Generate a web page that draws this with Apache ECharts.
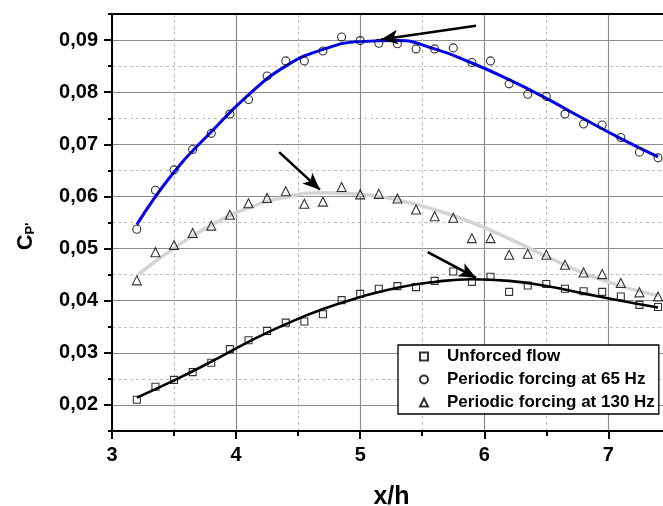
<!DOCTYPE html>
<html>
<head>
<meta charset="utf-8">
<script src="https://cdn.jsdelivr.net/npm/echarts@6/dist/echarts.min.js"></script>
<style>html,body{margin:0;padding:0;background:#fff}#c{width:663px;height:506px}</style>
</head>
<body>
<div id="c"></div>
<script>
// ---- data ----
var xPos = [3.2,3.35,3.5,3.65,3.8,3.95,4.1,4.25,4.4,4.55,4.7,4.85,5.0,5.15,5.3,5.45,5.6,5.75,5.9,6.05,6.2,6.35,6.5,6.65,6.8,6.95,7.1,7.25,7.4];
var unforced = [0.0210,0.0235,0.0248,0.0263,0.0281,0.0307,0.0324,0.0342,0.0358,0.0360,0.0374,0.0401,0.0413,0.0423,0.0428,0.0426,0.0438,0.0456,0.0436,0.0446,0.0417,0.0429,0.0432,0.0423,0.0418,0.0417,0.0408,0.0392,0.0388];
var forcing65 = [0.0537,0.0612,0.0651,0.0690,0.0721,0.0758,0.0786,0.0831,0.0860,0.0860,0.0879,0.0906,0.0899,0.0894,0.0893,0.0883,0.0883,0.0885,0.0857,0.0860,0.0816,0.0796,0.0792,0.0758,0.0739,0.0737,0.0713,0.0685,0.0674];
var forcing130 = [0.0439,0.0493,0.0507,0.0530,0.0544,0.0565,0.0587,0.0597,0.0610,0.0586,0.0590,0.0618,0.0604,0.0605,0.0596,0.0575,0.0562,0.0559,0.0520,0.0520,0.0488,0.0490,0.0488,0.0469,0.0454,0.0451,0.0434,0.0416,0.0408];
// fitted curves
var fitX = [3.2,3.5,3.8,4.1,4.4,4.7,5.0,5.3,5.6,5.9,6.2,6.5,6.8,7.1,7.4];
var fitUnforced = [0.0214,0.0247,0.0283,0.0321,0.0355,0.0384,0.0407,0.0425,0.0436,0.0441,0.0438,0.0428,0.0414,0.0400,0.0387];
var fit65 = [0.0546,0.0647,0.0724,0.0795,0.0850,0.0882,0.0897,0.0899,0.0883,0.0856,0.0824,0.0788,0.0749,0.0711,0.0676];
var fit130 = [0.0448,0.0501,0.0545,0.0578,0.0599,0.0607,0.0604,0.0593,0.0575,0.0550,0.0519,0.0485,0.0453,0.0428,0.0410];
var seriesNames = ['Unforced flow','Periodic forcing at 65 Hz','Periodic forcing at 130 Hz'];
var xMajor = [3,4,5,6,7];
var xMinor = [3.5,4.5,5.5,6.5];
var yMajor = [0.02,0.03,0.04,0.05,0.06,0.07,0.08,0.09];
var yMinor = [0.015,0.025,0.035,0.045,0.055,0.065,0.075,0.085,0.095];
// arrows: [tailX, tailY, tipX, tipY]
var arrows = [
  [5.933,0.09275,5.167,0.0901],
  [4.347,0.0685,4.675,0.0613],
  [5.544,0.0493,5.933,0.0444]
];

function pairs(xs, ys){ return xs.map(function(x,i){ return [x, ys[i]]; }); }

var FONT = 'Liberation Sans, Arial, sans-serif';
var chart = echarts.init(document.getElementById('c'), null, {renderer:'canvas'});
var XMIN = 3, XMAX = 7.44, YMIN = 0.015, YMAX = 0.095;

var scatterStyle = {color:'rgba(255,255,255,0)', borderColor:'#000', borderWidth:1.1};

chart.setOption({
  animation:false,
  backgroundColor:'#fff',
  grid:{left:112, top:14, right:0, bottom:75, containLabel:false, outerBoundsMode:'none'},
  legend:{
    orient:'vertical', left:398, top:345,
    data:seriesNames,
    backgroundColor:'#fff', borderColor:'#000', borderWidth:1.3,
    padding:[3,4,3,21], itemWidth:8, itemHeight:8, itemGap:6,
    textStyle:{fontFamily:FONT, fontSize:17, fontWeight:'bold', color:'#000', lineHeight:16, padding:[0,0,0,14]}
  },
  xAxis:[
    {type:'value', position:'bottom', min:XMIN, max:XMAX, interval:0.5,
     name:'x/h', nameLocation:'middle', nameGap:54,
     nameTextStyle:{fontFamily:FONT, fontSize:25, fontWeight:'bold', color:'#000', padding:[0,0,0,8]},
     axisLine:{show:true, onZero:false, lineStyle:{color:'#000', width:2}},
     axisTick:{show:true, customValues:xMajor, length:8, lineStyle:{color:'#000', width:2}},
     axisLabel:{show:true, customValues:xMajor, margin:14, fontFamily:FONT, fontSize:20, fontWeight:'bold', color:'#000'},
     splitLine:{show:true, lineStyle:{color:'#8c8c8c', width:1.2, type:'solid'}}
    },
    {type:'value', position:'top', min:XMIN, max:XMAX, interval:0.5,
     axisLine:{show:true, onZero:false, lineStyle:{color:'#000', width:2}},
     axisTick:{show:false, customValues:xMinor},
     axisLabel:{show:false, customValues:xMinor},
     splitLine:{show:true, lineStyle:{color:'#bdbdbd', width:1, type:[3,3]}}
    },
    {type:'value', position:'bottom', min:XMIN, max:XMAX, interval:0.5,
     axisLine:{show:false, onZero:false},
     axisTick:{show:true, customValues:xMinor, length:5, lineStyle:{color:'#000', width:2}},
     axisLabel:{show:false, customValues:xMinor},
     splitLine:{show:false}
    }
  ],
  yAxis:[
    {type:'value', position:'left', min:YMIN, max:YMAX, interval:0.005,
     name:'{c|C}{s|P\'}', nameLocation:'middle', nameRotate:90, nameGap:75,
     nameTextStyle:{rich:{
       c:{fontFamily:FONT, fontSize:22, fontWeight:'bold', color:'#000'},
       s:{fontFamily:FONT, fontSize:13, fontWeight:'bold', color:'#000', verticalAlign:'bottom', padding:[0,28,0,0]}
     }},
     axisLine:{show:true, onZero:false, lineStyle:{color:'#000', width:2}},
     axisTick:{show:true, customValues:yMajor, length:8, lineStyle:{color:'#000', width:2}},
     axisLabel:{show:true, customValues:yMajor, margin:14, fontFamily:FONT, fontSize:20, fontWeight:'bold', color:'#000',
       formatter:function(v){ return v.toFixed(2).replace('.', ','); }},
     splitLine:{show:true, lineStyle:{color:'#8c8c8c', width:1.2, type:'solid'}}
    },
    {type:'value', position:'left', min:YMIN, max:YMAX, interval:0.005,
     axisLine:{show:false, onZero:false},
     axisTick:{show:true, customValues:yMinor, length:4, lineStyle:{color:'#000', width:2}},
     axisLabel:{show:false, customValues:yMinor},
     splitLine:{show:true, lineStyle:{color:'#bdbdbd', width:1, type:[3,3]}}
    }
  ],
  series:[
    {type:'line', name:'fit130', data:pairs(fitX, fit130), smooth:0.5, symbol:'none', silent:true, z:2,
     lineStyle:{color:'#d4d4d4', width:3.5}},
    {type:'line', name:'fit65', data:pairs(fitX, fit65), smooth:0.5, symbol:'none', silent:true, z:2,
     lineStyle:{color:'#0000ee', width:3}},
    {type:'line', name:'fitUnforced', data:pairs(fitX, fitUnforced), smooth:0.5, symbol:'none', silent:true, z:2,
     lineStyle:{color:'#000', width:2.6}},
    {type:'scatter', name:seriesNames[0], data:pairs(xPos, unforced), symbol:'rect', symbolSize:7, z:3,
     itemStyle:scatterStyle,
     markLine:{silent:true, symbol:['none','arrow'], symbolSize:[11,17], label:{show:false},
       lineStyle:{color:'#000', width:2.6, type:'solid'}, emphasis:{disabled:true},
       data:arrows.map(function(a){ return [{coord:[a[0],a[1]]},{coord:[a[2],a[3]]}]; })}
    },
    {type:'scatter', name:seriesNames[1], data:pairs(xPos, forcing65), symbol:'circle', symbolSize:8, z:3,
     itemStyle:scatterStyle},
    {type:'scatter', name:seriesNames[2], data:pairs(xPos, forcing130), symbol:'triangle', symbolSize:9, z:3,
     itemStyle:scatterStyle}
  ]
});
</script>
</body>
</html>
